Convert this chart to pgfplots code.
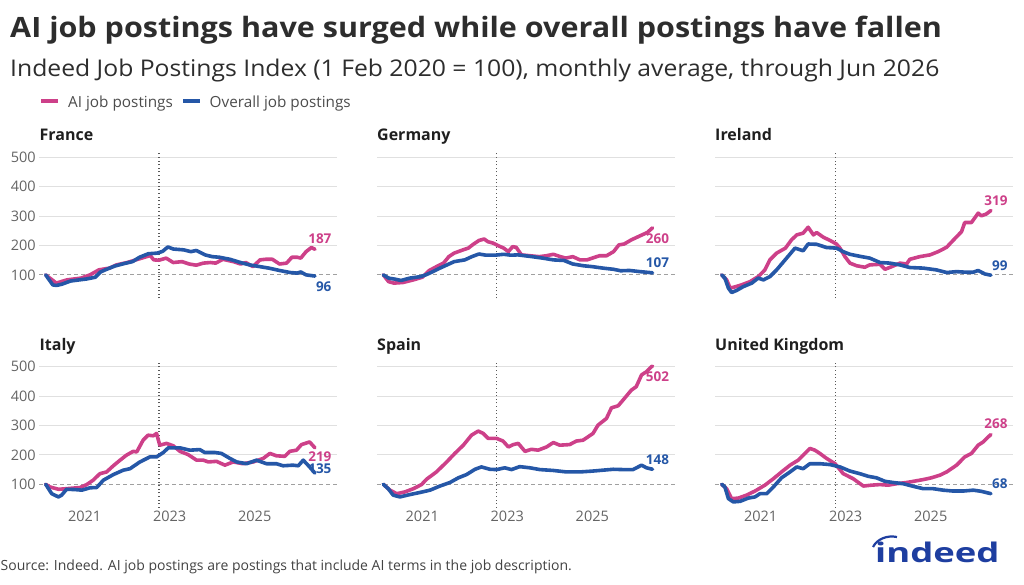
\documentclass[border=0pt]{standalone}
\usepackage{fontspec}
\setmainfont{Open Sans}
\usepackage{pgfplots}
\pgfplotsset{compat=1.18}
\definecolor{aipink}{RGB}{205,64,137}
\definecolor{allblue}{RGB}{37,87,167}
\definecolor{txt}{RGB}{45,45,45}
\definecolor{tickc}{RGB}{100,100,100}
\definecolor{gridc}{RGB}{224,224,224}
\definecolor{refc}{RGB}{160,160,160}
\definecolor{indeedblue}{RGB}{30,62,160}
\pgfplotsset{
 panel/.style={scale only axis, width=297.6pt, height=147pt,
  xmin=-1.8, xmax=82.2, ymin=20, ymax=520,
  axis line style={draw=none}, major tick length=0pt,
  ytick={200,300,400,500}, ymajorgrids,
  grid style={color=gridc, line width=1pt},
  extra y ticks={100},
  extra y tick style={major grid style={color=refc, dash pattern=on 4pt off 3pt, line width=1.2pt}},
  xtick={11,35,59}, xticklabels={2021,2023,2025},
  tick label style={font=\fontsize{14.5}{15}\selectfont, text=tickc},
  /pgf/number format/assume math mode=true,
  clip=false, anchor=north west},
 norx/.style={xticklabels={}},
 nory/.style={yticklabels={}, extra y tick labels={}},
 ai/.style={color=aipink, line width=3.6pt, line join=round, line cap=round, mark=none},
 ov/.style={color=allblue, line width=3.6pt, line join=round, line cap=round, mark=none},
 chat/.style={color=black!65, dash pattern=on 1pt off 2.6pt, line width=1.1pt, mark=none},
}
\tikzset{lab/.style={anchor=east, inner sep=1pt, font=\bfseries\fontsize{13.5}{14}\selectfont}}
\newcommand{\ptitle}[3]{\node[anchor=base west, inner sep=0pt, font=\bfseries\fontsize{16}{18}\selectfont, text=black!88] at (#1,#2) {#3};}
\begin{document}
\begin{tikzpicture}[x=1pt,y=1pt]
\path[use as bounding box] (0,0) rectangle (1024,-585);
\node[anchor=base west, inner sep=0pt, text=txt] at (10,-37.5) {\scalebox{1.09}[1]{\bfseries\fontsize{28}{30}\selectfont AI job postings have surged while overall postings have fallen}};
\node[anchor=base west, inner sep=0pt, text=txt] at (10,-77) {\scalebox{1.075}[1]{\fontsize{23}{27}\selectfont Indeed Job Postings Index (1 Feb 2020 = 100), monthly average, through Jun 2026}};
\draw[aipink, line width=4pt] (41,-101.5) -- (58,-101.5);
\node[anchor=base west, inner sep=0pt, font=\fontsize{15.3}{16}\selectfont, text=txt!85] at (68,-107.5) {AI job postings};
\draw[allblue, line width=4pt] (183,-101.5) -- (199.5,-101.5);
\node[anchor=base west, inner sep=0pt, font=\fontsize{15.3}{16}\selectfont, text=txt!85] at (209.5,-107.5) {Overall job postings};
\ptitle{39.5}{-140.7}{France}
\ptitle{377}{-140.7}{Germany}
\ptitle{715}{-140.7}{Ireland}
\ptitle{39.5}{-350}{Italy}
\ptitle{377}{-350}{Spain}
\ptitle{715}{-350}{United Kingdom}
% France
\begin{axis}[panel, norx, at={(39.3pt,-151.4pt)}]
\addplot[chat] coordinates {(32,20) (32,520)};
\addplot[ai] coordinates {(0,100)(3,72)(6,83)(10,89)(12.5,100)(15,117)(18,123)(20,134)(23,142)(26,153)(28.5,162)(29.5,166)(30.5,151)(32,150)(34,157)(36,142)(38.5,145)(40.5,137)(42.5,133)(44.5,140)(46.5,142)(48,140)(50,153)(53,145)(55,137)(56.5,142)(58.5,128)(60.5,151)(62,153)(64,153)(66,137)(68,140)(69.5,160)(71,160)(72,157)(73.5,179)(75,193)(76,187)};
\addplot[ov] coordinates {(0,100)(2,66)(3,64)(4.5,68)(7,79)(9.5,83)(11.5,86)(14,92)(15.5,110)(17,118)(19.5,130)(22,138)(24.5,145)(26.5,160)(29,172)(31.5,174)(33,180)(34.5,195)(36,188)(39,185)(41,179)(42.5,183)(45,168)(47,162)(49,160)(52,153)(55,142)(57.5,134)(60.5,128)(63,123)(66,115)(69,108)(71,106)(72,110)(73.5,100)(76,96)};
\node[lab, text=aipink] at (axis cs:81,222) {187};
\node[lab, text=allblue] at (axis cs:81,59) {96};
\end{axis}
% Germany
\begin{axis}[panel, norx, nory, at={(376.9pt,-151.4pt)}]
\addplot[chat] coordinates {(32,20) (32,520)};
\addplot[ai] coordinates {(0,100)(1.5,77)(3,72)(5.5,74)(8.5,83)(11,92)(13,115)(15,128)(17,140)(18.5,162)(20,174)(22.5,185)(24,191)(25.5,205)(27,217)(28.5,222)(29.5,213)(31,208)(32.5,199)(34,191)(35.3,179)(36.5,196)(37.5,194)(39,168)(41.5,165)(44,162)(46,165)(48,170)(50,162)(51.5,157)(53.5,162)(55.5,151)(57.5,151)(59,157)(61,165)(63,165)(65,179)(66.5,202)(68,205)(70,219)(72.5,233)(74.5,244)(76,260)};
\addplot[ov] coordinates {(0,100)(1.5,89)(3.5,85)(5,81)(7.5,89)(10.5,94)(12,100)(14,111)(16,123)(18,134)(20,145)(23,151)(25,162)(27,171)(29,167)(31.5,167)(34,170)(36,167)(38,168)(40,165)(42,162)(45,157)(48,151)(51,149)(53.5,137)(56.5,131)(59,128)(62,123)(65,119)(67,114)(69.5,115)(72.5,111)(76,107)};
\node[lab, text=aipink] at (axis cs:81,222) {260};
\node[lab, text=allblue] at (axis cs:81,141) {107};
\end{axis}
% Ireland
\begin{axis}[panel, norx, nory, at={(715.3pt,-151.4pt)}]
\addplot[chat] coordinates {(32,20) (32,520)};
\addplot[ai] coordinates {(0,100)(1.4,83)(2.4,55)(4,60)(5.6,66)(8,77)(10.3,94)(12.2,117)(13.6,151)(15.5,174)(18,191)(19.7,219)(21.2,236)(23,242)(24.4,262)(25.9,236)(26.8,244)(28.7,228)(30.6,217)(32.4,205)(33.4,191)(34.8,162)(36.2,140)(38.1,131)(40.4,126)(41.8,134)(44.7,136)(46.1,119)(48,128)(50.3,140)(52.2,137)(53.1,153)(55.9,162)(58.8,168)(61.1,179)(63.5,194)(65.3,217)(67.7,247)(68.6,278)(70.5,278)(72.4,310)(73.3,301)(74.7,307)(76,319)};
\addplot[ov] coordinates {(0,100)(0.9,89)(1.9,55)(2.8,40)(4.2,47)(6.1,60)(8.5,72)(10.3,89)(11.8,83)(13.6,94)(15.5,117)(17.9,151)(20.7,191)(23,182)(24.4,205)(26.8,204)(29.6,193)(32.4,191)(34.3,179)(36.2,170)(39.5,162)(41.8,157)(44.7,142)(47.5,140)(50.3,134)(53.1,125)(56.9,123)(60.6,117)(63.5,108)(66.3,111)(69.1,109)(71,109)(72.4,115)(74.3,103)(76,99)};
\node[lab, text=aipink] at (axis cs:81,352) {319};
\node[lab, text=allblue] at (axis cs:81,132) {99};
\end{axis}
% Italy
\begin{axis}[panel, at={(39.3pt,-360.8pt)}]
\addplot[chat] coordinates {(32,20) (32,520)};
\addplot[ai] coordinates {(0,100)(1.2,91)(3.6,83)(5.9,85)(9.7,89)(11.6,99)(13.4,114)(15.3,136)(17.2,142)(19.1,163)(21,182)(22.8,199)(24.7,212)(25.7,210)(27.5,250)(28.9,267)(30.4,265)(31.3,273)(32.2,233)(34.1,239)(36,231)(37.9,212)(40.2,201)(42.6,182)(44.5,182)(45.9,176)(48.2,178)(50.6,165)(52.9,176)(55.7,170)(58.6,176)(61.4,188)(63.3,205)(65.1,197)(67.5,195)(68.9,212)(70.8,216)(72.2,235)(74.5,244)(76,224)};
\addplot[ov] coordinates {(0,100)(1.7,68)(3.6,57)(4.5,63)(5.9,83)(8.3,82)(10.2,80)(12.5,88)(14.4,89)(16.3,114)(19.1,133)(21.9,148)(23.8,153)(26.6,176)(29.4,193)(31.3,193)(33.2,208)(34.6,224)(37.9,224)(40.7,216)(43.5,218)(44.9,208)(47.8,208)(49.6,205)(52,188)(53.9,176)(56.7,170)(59.5,182)(62.3,170)(65.1,170)(67,163)(69.8,165)(71.3,163)(72.7,182)(74.5,159)(76,138)};
\node[lab, text=aipink] at (axis cs:81,195) {219};
\node[lab, text=allblue] at (axis cs:81,153) {135};
\end{axis}
% Spain
\begin{axis}[panel, nory, at={(376.9pt,-360.8pt)}]
\addplot[chat] coordinates {(32,20) (32,520)};
\addplot[ai] coordinates {(0,100)(1.9,80)(3.8,68)(6.1,74)(8.5,85)(10.8,99)(12.2,117)(15,142)(17.9,176)(20.2,205)(22.6,233)(24.9,267)(26.8,281)(28.2,273)(29.6,256)(32,256)(33.8,247)(35.3,227)(36.7,235)(38.1,239)(40,212)(41.8,219)(43.7,216)(46.1,227)(48,242)(49.8,233)(52.6,235)(54.5,247)(56.4,250)(59.2,273)(60.6,301)(63,324)(64.4,360)(66.3,367)(68.2,394)(70,420)(71.4,432)(72.9,472)(74.3,483)(75.7,500)(76,502)};
\addplot[ov] coordinates {(0,100)(1.4,85)(2.8,63)(4.7,57)(7.5,65)(10.3,72)(13.2,80)(16,94)(18.8,106)(21.2,122)(23.5,133)(25.9,151)(27.7,159)(30.1,151)(32,150)(34.3,156)(36.2,150)(38.5,160)(41.4,156)(44.2,150)(48,147)(51.7,142)(55.5,142)(59.2,145)(62,148)(64.9,151)(67.7,150)(70.5,150)(72.9,165)(74.3,156)(76,151)};
\node[lab, text=aipink] at (axis cs:81,466) {502};
\node[lab, text=allblue] at (axis cs:81,185) {148};
\end{axis}
% United Kingdom
\begin{axis}[panel, nory, at={(715.3pt,-360.8pt)}]
\addplot[chat] coordinates {(32,20) (32,520)};
\addplot[ai] coordinates {(0,100)(1.4,85)(2.8,51)(4.7,53)(7,63)(9.4,77)(12.2,97)(14.6,119)(16.9,142)(19.3,165)(21.6,182)(23.5,205)(24.9,222)(26.3,216)(27.7,205)(29.6,188)(32,170)(34.3,136)(37.1,119)(40,94)(42.3,97)(44.7,99)(47,97)(49.4,102)(52.2,106)(54.1,110)(56.9,116)(59.2,122)(61.6,131)(63.5,142)(66.3,165)(68.6,193)(70.5,205)(72.4,233)(73.8,244)(75.2,261)(76,269)};
\addplot[ov] coordinates {(0,100)(0.9,91)(1.9,51)(3.3,40)(5.2,42)(7.5,53)(9.4,57)(10.8,68)(12.7,68)(14.6,91)(16.9,122)(19.3,142)(21.2,159)(23,153)(24.9,170)(27.7,170)(30.6,167)(33.4,159)(36.2,145)(39,136)(41.4,127)(43.7,122)(46.1,110)(48.4,106)(51.2,102)(54.1,93)(56.9,85)(59.7,85)(62.5,80)(65.3,77)(68.2,77)(71,80)(73.3,76)(76,68)};
\node[lab, text=aipink] at (axis cs:81,305) {268};
\node[lab, text=allblue] at (axis cs:81,102) {68};
\end{axis}
% source and logo
\node[anchor=base west, inner sep=0pt, font=\fontsize{14}{15}\selectfont, text=txt!90] at (0.5,-570) {Source: Indeed. AI job postings are postings that include AI terms in the job description.};
\node[anchor=base west, inner sep=0pt, text=indeedblue] at (875,-562) {\scalebox{1.35}[1]{\fontsize{27}{28}\selectfont\bfseries indeed}};
\draw[indeedblue, line width=2.2pt] (873,-547) .. controls (877,-539) and (887,-535) .. (897,-537);
\end{tikzpicture}
\end{document}
